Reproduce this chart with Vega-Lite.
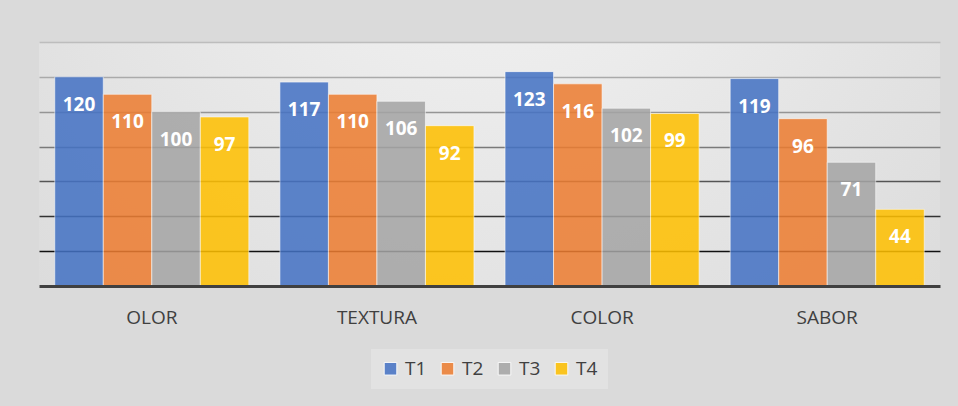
{
  "$schema": "https://vega.github.io/schema/vega-lite/v6.json",
  "width": 901,
  "height": 244,
  "autosize": {"type": "none"},
  "padding": {"left": 39, "top": 42, "right": 18, "bottom": 120},
  "background": "#dadada",
  "config": {
    "font": "Open Sans",
    "view": {
      "stroke": null,
      "fill": {
        "gradient": "radial",
        "x1": 0.5, "y1": 0.15, "r1": 0,
        "x2": 0.5, "y2": 0.15, "r2": 0.75,
        "stops": [
          {"offset": 0, "color": "#f5f5f5"},
          {"offset": 1, "color": "#dadada"}
        ]
      }
    }
  },
  "data": {
    "values": [
      {"atributo": "OLOR", "tratamiento": "T1", "valor": 120},
      {"atributo": "OLOR", "tratamiento": "T2", "valor": 110},
      {"atributo": "OLOR", "tratamiento": "T3", "valor": 100},
      {"atributo": "OLOR", "tratamiento": "T4", "valor": 97},
      {"atributo": "TEXTURA", "tratamiento": "T1", "valor": 117},
      {"atributo": "TEXTURA", "tratamiento": "T2", "valor": 110},
      {"atributo": "TEXTURA", "tratamiento": "T3", "valor": 106},
      {"atributo": "TEXTURA", "tratamiento": "T4", "valor": 92},
      {"atributo": "COLOR", "tratamiento": "T1", "valor": 123},
      {"atributo": "COLOR", "tratamiento": "T2", "valor": 116},
      {"atributo": "COLOR", "tratamiento": "T3", "valor": 102},
      {"atributo": "COLOR", "tratamiento": "T4", "valor": 99},
      {"atributo": "SABOR", "tratamiento": "T1", "valor": 119},
      {"atributo": "SABOR", "tratamiento": "T2", "valor": 96},
      {"atributo": "SABOR", "tratamiento": "T3", "valor": 71},
      {"atributo": "SABOR", "tratamiento": "T4", "valor": 44}
    ]
  },
  "encoding": {
    "x": {
      "field": "atributo",
      "type": "nominal",
      "sort": ["OLOR", "TEXTURA", "COLOR", "SABOR"],
      "scale": {"paddingInner": 0.138, "paddingOuter": 0.07},
      "axis": {
        "title": null,
        "ticks": false,
        "labelAngle": 0,
        "labelFontSize": 19,
        "labelColor": "#404040",
        "labelPadding": 22,
        "domainColor": "#404040",
        "domainWidth": 3,
        "zindex": 1
      }
    },
    "xOffset": {
      "field": "tratamiento",
      "type": "nominal",
      "sort": ["T1", "T2", "T3", "T4"],
      "scale": {"paddingInner": 0, "paddingOuter": 0}
    },
    "y": {
      "field": "valor",
      "type": "quantitative",
      "scale": {"domain": [0, 140], "nice": false},
      "axis": {
        "title": null,
        "labels": false,
        "ticks": false,
        "domain": false,
        "values": [20, 40, 60, 80, 100, 120, 140],
        "gridWidth": 1.5,
        "gridColor": {
          "condition": [
            {"test": "datum.value <= 20", "value": "#111111"},
            {"test": "datum.value <= 40", "value": "#333333"},
            {"test": "datum.value <= 60", "value": "#555555"},
            {"test": "datum.value <= 80", "value": "#7a7a7a"},
            {"test": "datum.value <= 100", "value": "#959595"},
            {"test": "datum.value <= 120", "value": "#aaaaaa"}
          ],
          "value": "#bdbdbd"
        }
      }
    }
  },
  "layer": [
    {
      "mark": {"type": "bar", "opacity": 0.86, "stroke": "#ffffff", "strokeWidth": 1, "strokeOpacity": 0.6},
      "encoding": {
        "color": {
          "field": "tratamiento",
          "type": "nominal",
          "scale": {
            "domain": ["T1", "T2", "T3", "T4"],
            "range": ["#4472C4", "#ED7D31", "#A5A5A5", "#FFC000"]
          },
          "legend": {
            "title": null,
            "orient": "none",
            "direction": "horizontal",
            "legendX": 332,
            "legendY": 307,
            "padding": 10,
            "fillColor": "#e2e2e2",
            "symbolType": "square",
            "symbolSize": 160,
            "symbolStrokeColor": "#ffffff",
            "symbolStrokeWidth": 1,
            "labelFontSize": 19,
            "labelColor": "#404040",
            "labelOffset": 5,
            "columnPadding": 11
          }
        }
      }
    },
    {
      "mark": {"type": "text", "dy": 28, "baseline": "middle", "align": "center", "color": "#ffffff", "fontWeight": "bold", "fontSize": 19},
      "encoding": {"text": {"field": "valor", "type": "quantitative"}}
    }
  ]
}
